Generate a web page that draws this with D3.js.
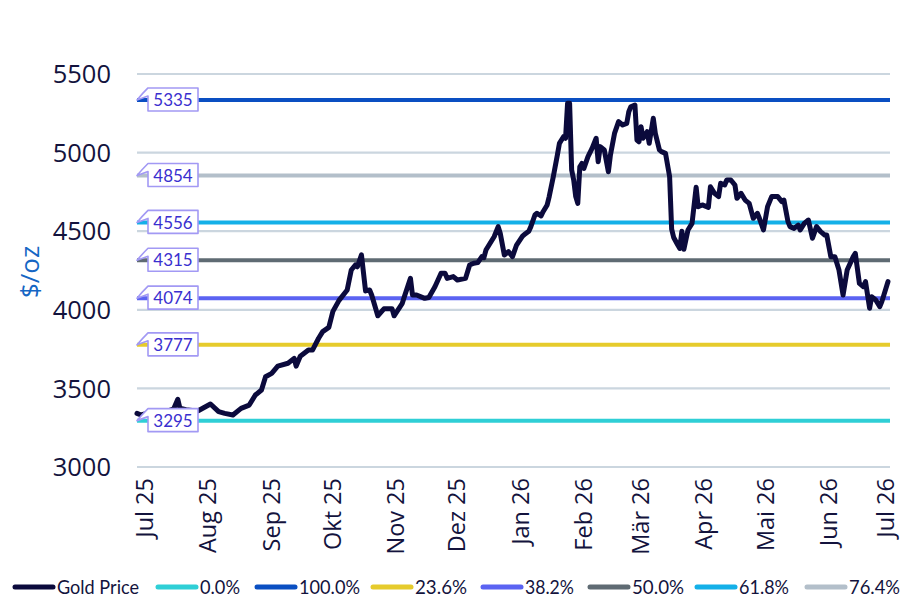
<!DOCTYPE html>
<html><head><meta charset="utf-8">
<script src="https://cdn.jsdelivr.net/npm/d3@7"></script>
<style>
html,body{margin:0;padding:0;background:#fff;}
svg{display:block;}
</style>
</head><body>
<svg id="chart" width="903" height="614"></svg>
<script>
// ---------- DATA ----------
const dates = ["2025-06-27","2025-06-29","2025-07-03","2025-07-08","2025-07-13","2025-07-15","2025-07-17","2025-07-18","2025-07-21","2025-07-24","2025-07-27","2025-08-02","2025-08-06","2025-08-09","2025-08-13","2025-08-17","2025-08-21","2025-08-24","2025-08-27","2025-08-29","2025-09-01","2025-09-04","2025-09-09","2025-09-12","2025-09-13","2025-09-15","2025-09-19","2025-09-21","2025-09-24","2025-09-26","2025-09-29","2025-10-01","2025-10-04","2025-10-08","2025-10-10","2025-10-12","2025-10-13","2025-10-15","2025-10-17","2025-10-19","2025-10-20","2025-10-23","2025-10-26","2025-10-30","2025-10-31","2025-11-04","2025-11-05","2025-11-08","2025-11-09","2025-11-11","2025-11-15","2025-11-17","2025-11-20","2025-11-23","2025-11-25","2025-11-26","2025-11-29","2025-12-01","2025-12-05","2025-12-07","2025-12-09","2025-12-11","2025-12-13","2025-12-14","2025-12-15","2025-12-19","2025-12-21","2025-12-22","2025-12-24","2025-12-26","2025-12-28","2025-12-30","2026-01-02","2026-01-03","2026-01-05","2026-01-06","2026-01-08","2026-01-09","2026-01-11","2026-01-12","2026-01-14","2026-01-15","2026-01-17","2026-01-19","2026-01-20","2026-01-22","2026-01-23","2026-01-24","2026-01-25","2026-01-26","2026-01-27","2026-01-28","2026-01-29","2026-01-30","2026-01-31","2026-02-01","2026-02-03","2026-02-05","2026-02-07","2026-02-08","2026-02-09","2026-02-11","2026-02-13","2026-02-14","2026-02-16","2026-02-18","2026-02-20","2026-02-22","2026-02-23","2026-02-24","2026-02-26","2026-02-27","2026-02-28","2026-03-01","2026-03-02","2026-03-04","2026-03-05","2026-03-07","2026-03-08","2026-03-10","2026-03-11","2026-03-13","2026-03-15","2026-03-16","2026-03-17","2026-03-19","2026-03-20","2026-03-21","2026-03-22","2026-03-24","2026-03-26","2026-03-28","2026-03-29","2026-03-31","2026-04-03","2026-04-04","2026-04-06","2026-04-08","2026-04-09","2026-04-11","2026-04-12","2026-04-14","2026-04-16","2026-04-17","2026-04-19","2026-04-21","2026-04-23","2026-04-25","2026-04-27","2026-04-28","2026-04-30","2026-05-02","2026-05-04","2026-05-07","2026-05-09","2026-05-10","2026-05-12","2026-05-13","2026-05-15","2026-05-17","2026-05-18","2026-05-20","2026-05-22","2026-05-24","2026-05-26","2026-05-28","2026-05-30","2026-05-31","2026-06-02","2026-06-04","2026-06-06","2026-06-08","2026-06-10","2026-06-13","2026-06-14","2026-06-16","2026-06-18","2026-06-19","2026-06-21","2026-06-22","2026-06-24","2026-06-26","2026-06-27","2026-06-30"];
const goldPrice = [3341,3331,3345,3355,3360,3370,3431,3375,3365,3360,3358,3401,3352,3341,3331,3373,3394,3458,3490,3574,3596,3642,3660,3691,3642,3704,3744,3744,3819,3861,3888,3990,4060,4126,4253,4285,4274,4349,4120,4126,4094,3962,4006,4006,3962,4041,4083,4200,4094,4094,4073,4078,4147,4232,4232,4200,4211,4190,4200,4285,4296,4300,4338,4332,4380,4465,4529,4487,4349,4370,4338,4412,4470,4480,4500,4529,4603,4614,4597,4624,4667,4720,4847,4985,5059,5101,5091,5314,5314,4889,4826,4720,4677,4910,4931,4900,4974,5027,5091,4942,5038,5017,4878,4985,5122,5197,5176,5186,5260,5292,5303,5080,5069,5165,5091,5133,5059,5218,5122,5017,5006,4995,4847,4513,4460,4412,4390,4500,4385,4508,4550,4780,4656,4667,4652,4783,4741,4720,4805,4794,4826,4826,4794,4709,4741,4698,4677,4582,4614,4582,4508,4656,4720,4720,4688,4698,4561,4529,4518,4539,4508,4550,4571,4455,4529,4497,4476,4476,4338,4338,4253,4094,4253,4338,4359,4168,4147,4179,4010,4083,4062,4020,4052,4179];

const fibNames  = ["0.0%","100.0%","23.6%","38.2%","50.0%","61.8%","76.4%"];
const fibValues = [3295, 5335, 3777, 4074, 4315, 4556, 4854];
const fibColors = ["#2fcfd6","#0a4fc2","#e6cb2c","#5b63f2","#5f6b73","#14b0e8","#b3bfca"];

const goldName = "Gold Price";
const goldColor = "#0b0a3c";

const yTicks = [3000,3500,4000,4500,5000,5500];
const xTickDates = ["2025-07-01","2025-08-01","2025-09-01","2025-10-01","2025-11-01","2025-12-01","2026-01-01","2026-02-01","2026-03-01","2026-04-01","2026-05-01","2026-06-01","2026-07-01"];
const monthNames = ["Jan","Feb","Mär","Apr","Mai","Jun","Jul","Aug","Sep","Okt","Nov","Dez"];
const yTitle = "$/oz";
const xDomain = ["2025-06-27","2026-07-01"];

// ---------- LAYOUT (not data) ----------
const legendSwatchX = [13,156,255,371,481,588,695,805];
const legendTextW   = [82,40,61,52,49,52,50,51];

// ---------- DRAW ----------
const parse = d3.timeParse("%Y-%m-%d");
const svg = d3.select("#chart");

const x = d3.scaleTime().domain(xDomain.map(parse)).range([137, 890]);
const y = d3.scaleLinear().domain([3000, 5500]).range([467, 74]);

const navy = "#13133d";

// gridlines
svg.append("g").selectAll("line").data(yTicks).join("line")
  .attr("x1", 137).attr("x2", 890)
  .attr("y1", d => y(d)).attr("y2", d => y(d))
  .attr("stroke", "#cbd6df").attr("stroke-width", 2.2);

// y tick labels
svg.append("g").selectAll("text").data(yTicks).join("text")
  .attr("x", 111).attr("y", d => y(d)).attr("dy", "0.36em")
  .attr("text-anchor", "end")
  .attr("font-family", "'Open Sans', sans-serif").attr("font-size", 25.5)
  .attr("fill", navy).text(d => d);

// y title
svg.append("text")
  .attr("transform", `translate(39,${272}) rotate(-90)`)
  .attr("text-anchor", "middle")
  .attr("font-family", "'Open Sans', sans-serif").attr("font-size", 26)
  .attr("fill", "#1566c4").text(yTitle);

// x tick labels
svg.append("g").selectAll("text").data(xTickDates.map(parse)).join("text")
  .attr("transform", d => `translate(${Math.min(x(d), 886)},478) rotate(-90)`)
  .attr("dy", "0.34em")
  .attr("text-anchor", "end")
  .attr("font-family", "'Open Sans', sans-serif").attr("font-size", 23.5)
  .attr("fill", navy)
  .text(d => monthNames[d.getMonth()] + " " + d3.timeFormat("%y")(d));

// fib lines
const fib = fibValues.map((v, i) => ({v, name: fibNames[i], color: fibColors[i]}));
svg.append("g").selectAll("line").data(fib).join("line")
  .attr("x1", 137).attr("x2", 890)
  .attr("y1", d => y(d.v)).attr("y2", d => y(d.v))
  .attr("stroke", d => d.color).attr("stroke-width", 4);

// gold line
const series = dates.map((d, i) => ({date: parse(d), v: goldPrice[i]}));
svg.append("path").datum(series)
  .attr("fill", "none").attr("stroke", goldColor)
  .attr("stroke-width", 5).attr("stroke-linejoin", "round").attr("stroke-linecap", "round")
  .attr("d", d3.line().x(d => x(d.date)).y(d => y(d.v)));

// callouts
const cg = svg.append("g").selectAll("g").data(fib).join("g")
  .attr("transform", d => `translate(0,${y(d.v)})`);
cg.append("path")
  .attr("d", "M148,-12 L198,-12 L198,11 L148,11 L148,-4 L137,0 Q142,-6 148,-12 Z")
  .attr("fill", "#fff").attr("stroke", "#a299f4").attr("stroke-width", 1.6)
  .attr("stroke-linejoin", "round");
cg.append("text")
  .attr("x", 173).attr("y", 0).attr("dy", "0.36em")
  .attr("text-anchor", "middle")
  .attr("font-family", "Lato, 'Open Sans', sans-serif").attr("font-size", 17)
  .attr("fill", "#3a2fcf").text(d => d.v);

// legend
const legendItems = [{name: goldName, color: goldColor}].concat(fib.map(d => ({name: d.name, color: d.color})));
const ly = 587;
const lg = svg.append("g");
legendItems.forEach((it, i) => {
  const lx = legendSwatchX[i];
  lg.append("line").attr("x1", lx + 2).attr("x2", lx + 40).attr("y1", ly).attr("y2", ly)
    .attr("stroke", it.color).attr("stroke-width", 5).attr("stroke-linecap", "round");
  lg.append("text").attr("x", lx + 44).attr("y", ly).attr("dy", "0.36em")
    .attr("font-family", "Lato, sans-serif").attr("font-size", 18.5)
    .attr("textLength", legendTextW[i]).attr("lengthAdjust", "spacingAndGlyphs")
    .attr("fill", navy).text(it.name);
});
</script>
</body></html>
